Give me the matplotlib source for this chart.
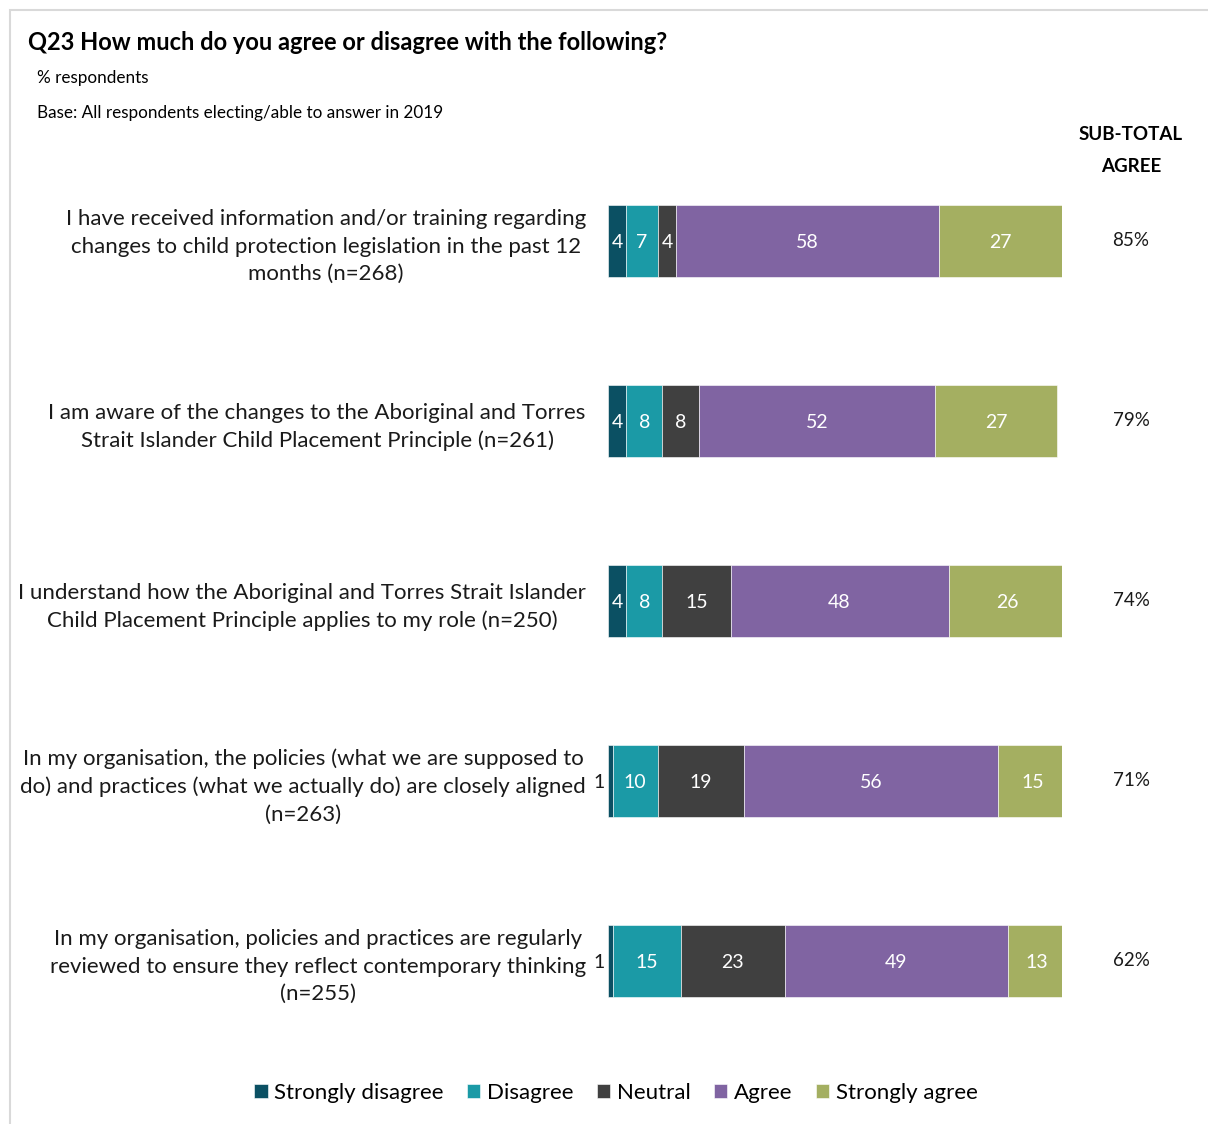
import numpy as np
import matplotlib.pyplot as plt
from matplotlib.patches import Rectangle
from matplotlib.transforms import blended_transform_factory

plt.rcParams['font.family'] = ['Lato', 'DejaVu Sans']

statements = [
    'I have received information and/or training regarding\nchanges to child protection legislation in the past 12\nmonths (n=268)',
    'I am aware of the changes to the Aboriginal and Torres\nStrait Islander Child Placement Principle (n=261)',
    'I understand how the Aboriginal and Torres Strait Islander\nChild Placement Principle applies to my role (n=250)',
    'In my organisation, the policies (what we are supposed to\ndo) and practices (what we actually do) are closely aligned\n(n=263)',
    'In my organisation, policies and practices are regularly\nreviewed to ensure they reflect contemporary thinking\n(n=255)',
]
categories = ['Strongly disagree', 'Disagree', 'Neutral', 'Agree', 'Strongly agree']
strongly_disagree = [4, 4, 4, 1, 1]
disagree = [7, 8, 8, 10, 15]
neutral = [4, 8, 15, 19, 23]
agree = [58, 52, 48, 56, 49]
strongly_agree = [27, 27, 26, 15, 13]

colors = ['#0b5063', '#1b9aa6', '#404040', '#8064a2', '#a4af61']

W, H = 1208, 1124
fig = plt.figure(figsize=(W / 100, H / 100), dpi=100)

# light grey frame along the top and left
fig.add_artist(Rectangle((10 / W, -0.1), 1.2, (H - 10) / H + 0.1, transform=fig.transFigure,
                         fill=False, edgecolor='#d9d9d9', linewidth=1.5))

ax = fig.add_axes([608 / W, 73 / H, 454 / W, 900 / H])

series = [strongly_disagree, disagree, neutral, agree, strongly_agree]
y = np.arange(len(statements))
left = np.zeros(len(statements))
for vals, col, name in zip(series, colors, categories):
    vals = np.array(vals, dtype=float)
    ax.barh(y, vals, left=left, height=0.4, color=col, label=name, edgecolor='white', linewidth=0.4)
    for yi, l, v in zip(y, left, vals):
        if v <= 2:
            ax.text(l - 0.8, yi + 0.01, f'{v:.0f}', ha='right', va='center', fontsize=14, color='#1a1a1a')
        else:
            ax.text(l + v / 2, yi + 0.01, f'{v:.0f}', ha='center', va='center', fontsize=14, color='white')
    left += vals

ax.set_xlim(0, 100)
ax.set_ylim(len(statements) - 0.5, -0.5)
ax.set_yticks(y)
ax.set_yticklabels(statements, fontsize=16, multialignment='center', color='#1a1a1a', linespacing=1.45)
ax.tick_params(axis='y', length=0, pad=16)
ax.set_xticks([])
for s in ax.spines.values():
    s.set_visible(False)

# sub-total agree column
xs = 1131 / W
fig.text(xs, 1 - 134 / H, 'SUB-TOTAL', ha='center', va='center', fontsize=13.5, fontweight='bold')
fig.text(xs, 1 - 166 / H, 'AGREE', ha='center', va='center', fontsize=13.5, fontweight='bold')
sub_tr = blended_transform_factory(fig.transFigure, ax.transData)
for yi in y:
    sub = agree[yi] + strongly_agree[yi]
    ax.text(xs, yi, f'{sub}%', transform=sub_tr, ha='center', va='center', fontsize=13.5, color='#1a1a1a')

fig.text(28 / W, 1 - 42 / H, 'Q23 How much do you agree or disagree with the following?',
         ha='left', va='center', fontsize=17, fontweight='bold')
fig.text(37 / W, 1 - 78 / H, '% respondents', ha='left', va='center', fontsize=12.3)
fig.text(37 / W, 1 - 113 / H, 'Base: All respondents electing/able to answer in 2019',
         ha='left', va='center', fontsize=12.3)

fig.legend(loc='center', bbox_to_anchor=(616 / W, 1 - 1093 / H), ncol=5, frameon=False,
           fontsize=16, handlelength=0.6, handleheight=0.6, handletextpad=0.3, columnspacing=1.05)

fig.savefig('out.png', dpi=100)
